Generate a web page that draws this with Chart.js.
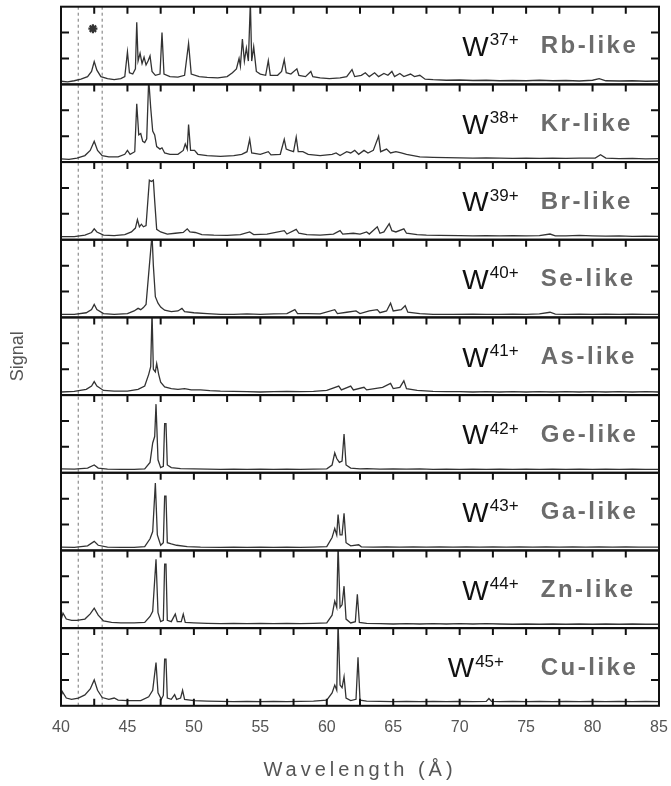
<!DOCTYPE html>
<html>
<head>
<meta charset="utf-8">
<script src="https://cdn.jsdelivr.net/npm/chart.js@4.4.1/dist/chart.umd.min.js"></script>
<style>
  html, body { margin: 0; padding: 0; background: #fff; }
  #wrap { width: 671px; height: 786px; }
</style>
</head>
<body>
<div id="wrap"><canvas id="spectra"></canvas></div>
<script>
// charge states and isoelectronic sequence, top panel first
const ions = ['37+', '38+', '39+', '40+', '41+', '42+', '43+', '44+', '45+'];
const sequences = ['Rb-like', 'Kr-like', 'Br-like', 'Se-like', 'As-like', 'Ge-like', 'Ga-like', 'Zn-like', 'Cu-like'];
const xTickValues = [42.5, 45, 47.5, 50, 52.5, 55, 57.5, 60, 62.5, 65, 67.5, 70, 72.5, 75, 77.5, 80, 82.5];
const yTickValues = [1, 2];
const guideLines = [41.3, 43.1];
const markers = [[42.4, 2.15]];

// [wavelength (A), signal]
const rb = [[40,0.12],[40.5,0.1],[41,0.14],[41.5,0.2],[42,0.3],[42.3,0.5],[42.5,0.88],[42.7,0.55],[43,0.3],[43.5,0.22],[44,0.18],[44.5,0.22],[44.8,0.3],[45,1.25],[45.15,0.45],[45.4,0.4],[45.6,0.6],[45.7,2.4],[45.8,0.9],[45.95,1.2],[46.1,0.8],[46.25,1.05],[46.4,0.75],[46.55,0.9],[46.7,1.1],[46.85,0.5],[47.1,0.35],[47.45,0.4],[47.6,2.0],[47.75,0.4],[48.2,0.3],[48.8,0.28],[49.3,0.35],[49.6,1.58],[49.8,0.4],[50.4,0.3],[51,0.27],[51.8,0.25],[52.5,0.3],[52.9,0.45],[53.2,0.6],[53.4,1.0],[53.5,0.7],[53.65,1.75],[53.8,0.9],[53.95,1.4],[54.1,0.9],[54.25,3.2],[54.35,0.9],[54.5,1.45],[54.7,0.5],[55,0.4],[55.4,0.35],[55.6,0.92],[55.75,0.35],[56.3,0.35],[56.6,0.5],[56.8,0.95],[56.95,0.45],[57.3,0.4],[57.75,0.6],[57.9,0.35],[58.4,0.3],[58.8,0.5],[58.95,0.3],[59.5,0.25],[60.2,0.22],[61,0.25],[61.5,0.3],[61.9,0.57],[62.1,0.3],[62.6,0.35],[62.9,0.45],[63.2,0.3],[63.6,0.45],[63.9,0.3],[64.3,0.42],[64.6,0.35],[64.9,0.5],[65.1,0.3],[65.5,0.42],[65.8,0.3],[66.3,0.4],[66.6,0.3],[67,0.35],[67.4,0.2],[68,0.18],[69,0.16],[70,0.17],[71,0.15],[72,0.16],[73,0.14],[74,0.15],[75,0.14],[76,0.16],[77,0.14],[78,0.15],[79,0.13],[80,0.16],[80.5,0.22],[81,0.14],[82,0.13],[83,0.14],[84,0.12],[85,0.13]];
const kr = [[40,0.12],[40.6,0.1],[41.2,0.15],[41.8,0.25],[42.2,0.45],[42.5,0.8],[42.75,0.45],[43.1,0.25],[43.6,0.2],[44.3,0.2],[44.8,0.3],[45,0.45],[45.2,0.3],[45.55,0.4],[45.7,2.25],[45.85,1.05],[46,1.1],[46.15,0.8],[46.3,0.75],[46.45,0.9],[46.6,3.2],[46.75,2.1],[46.9,1.2],[47.05,1.05],[47.2,0.6],[47.45,0.5],[47.6,0.55],[47.8,0.35],[48.2,0.3],[48.8,0.3],[49.2,0.45],[49.35,0.7],[49.5,0.5],[49.6,1.45],[49.75,0.45],[50.05,0.45],[50.3,0.3],[51,0.25],[52,0.22],[53,0.25],[53.6,0.3],[54,0.4],[54.2,0.88],[54.35,0.35],[55,0.3],[55.6,0.4],[55.8,0.28],[56.5,0.3],[56.8,0.88],[56.95,0.5],[57.2,0.45],[57.5,0.4],[57.7,0.96],[57.85,0.4],[58.2,0.4],[58.6,0.3],[59.5,0.25],[60.4,0.3],[60.7,0.35],[61,0.25],[61.5,0.4],[61.8,0.35],[62.1,0.45],[62.4,0.3],[62.8,0.45],[63.1,0.35],[63.5,0.45],[63.9,1.0],[64.05,0.4],[64.5,0.5],[64.8,0.35],[65.2,0.4],[65.6,0.35],[66,0.3],[66.5,0.25],[67,0.2],[68,0.18],[69,0.17],[70,0.16],[71,0.15],[72,0.16],[73,0.15],[74,0.14],[75,0.15],[76,0.14],[77,0.15],[78,0.14],[79,0.15],[80.2,0.15],[80.6,0.28],[81,0.15],[82,0.13],[83,0.14],[84,0.12],[85,0.13]];
const br = [[40,0.12],[41,0.12],[41.8,0.18],[42.3,0.28],[42.5,0.42],[42.7,0.3],[43.2,0.18],[44,0.16],[44.8,0.2],[45.3,0.3],[45.6,0.45],[45.75,0.78],[45.9,0.5],[46.05,0.6],[46.2,0.5],[46.4,0.55],[46.55,1.6],[46.65,2.3],[46.8,2.25],[46.95,2.3],[47.05,1.5],[47.2,0.4],[47.5,0.3],[48,0.22],[48.6,0.25],[49.2,0.28],[49.5,0.42],[49.7,0.3],[50.1,0.28],[50.6,0.2],[51.5,0.18],[52.5,0.17],[53.5,0.2],[54.2,0.3],[54.5,0.2],[55.5,0.22],[56.8,0.35],[57,0.22],[57.7,0.4],[57.9,0.25],[58.5,0.2],[59.5,0.18],[60.5,0.22],[61,0.35],[61.2,0.22],[62,0.25],[62.5,0.22],[63,0.3],[63.2,0.22],[63.8,0.5],[64,0.25],[64.3,0.3],[64.7,0.62],[64.9,0.35],[65.2,0.3],[65.8,0.42],[66,0.25],[66.8,0.2],[67.5,0.18],[68.5,0.17],[70,0.16],[71,0.15],[72,0.16],[73,0.15],[74,0.16],[75,0.15],[76,0.16],[76.8,0.22],[77.2,0.15],[78,0.15],[79,0.17],[80,0.15],[81,0.14],[82,0.15],[83,0.13],[84,0.14],[85,0.13]];
const se = [[40,0.12],[41,0.12],[41.9,0.18],[42.3,0.3],[42.5,0.5],[42.7,0.3],[43.2,0.15],[44,0.12],[45,0.15],[45.5,0.25],[45.8,0.35],[46,0.3],[46.2,0.38],[46.4,0.5],[46.6,1.7],[46.75,2.6],[46.85,3.2],[46.95,2.0],[47.1,0.8],[47.3,0.55],[47.5,0.4],[47.8,0.28],[48.3,0.22],[48.8,0.25],[49.1,0.35],[49.3,0.22],[50,0.18],[51,0.15],[52,0.12],[53,0.12],[54,0.14],[55,0.12],[56,0.14],[57,0.15],[57.6,0.3],[57.8,0.15],[58.5,0.15],[59.5,0.14],[60.6,0.3],[60.8,0.15],[61.5,0.2],[62.2,0.25],[62.5,0.15],[63.2,0.25],[63.8,0.3],[64,0.18],[64.5,0.25],[64.8,0.55],[65,0.25],[65.6,0.3],[65.9,0.45],[66.1,0.2],[67,0.15],[68,0.12],[69.5,0.12],[71,0.13],[72,0.12],[73,0.12],[74,0.13],[75,0.12],[76,0.14],[76.8,0.2],[77.2,0.13],[78,0.12],[79,0.13],[80,0.12],[81,0.13],[82,0.12],[83,0.13],[84,0.12],[85,0.12]];
const as = [[40,0.12],[41,0.14],[41.9,0.22],[42.3,0.35],[42.5,0.52],[42.7,0.35],[43.2,0.18],[44,0.15],[45,0.15],[45.8,0.22],[46.3,0.35],[46.6,0.8],[46.75,1.1],[46.85,3.2],[46.95,1.0],[47.1,0.9],[47.2,1.22],[47.35,0.8],[47.5,0.5],[47.8,0.32],[48.3,0.25],[48.8,0.22],[49.3,0.25],[49.8,0.2],[50.5,0.2],[51.2,0.17],[52,0.15],[53,0.14],[54,0.13],[55,0.12],[56,0.13],[57,0.14],[58,0.13],[59,0.14],[60,0.18],[60.9,0.35],[61.1,0.2],[61.8,0.35],[62,0.2],[62.8,0.3],[63,0.2],[63.6,0.25],[64.2,0.3],[64.8,0.45],[65,0.25],[65.5,0.3],[65.8,0.55],[66,0.25],[66.8,0.18],[68,0.14],[69,0.13],[70,0.13],[71,0.12],[72,0.13],[73,0.12],[74,0.13],[75,0.12],[76,0.13],[77,0.12],[78,0.13],[79,0.12],[80,0.13],[81,0.12],[82,0.13],[83,0.12],[84,0.13],[85,0.12]];
const ge = [[40,0.15],[41,0.14],[42,0.18],[42.5,0.3],[42.8,0.18],[43.5,0.14],[44.5,0.13],[45.5,0.13],[46.3,0.15],[46.7,0.4],[46.9,1.15],[47.05,1.4],[47.15,2.65],[47.3,0.5],[47.5,0.2],[47.7,0.25],[47.8,1.9],[47.9,1.9],[48,0.3],[48.3,0.2],[49,0.16],[50,0.15],[51,0.14],[52,0.13],[53,0.14],[54,0.13],[55,0.14],[56,0.13],[57,0.14],[58,0.13],[59,0.14],[60,0.15],[60.4,0.3],[60.6,0.77],[60.75,0.55],[60.95,0.4],[61.15,0.45],[61.3,1.5],[61.45,0.3],[61.8,0.18],[62.5,0.15],[63,0.16],[64,0.14],[65,0.15],[66,0.14],[67,0.15],[68,0.13],[69,0.14],[70,0.13],[71,0.14],[72,0.13],[73,0.14],[74,0.13],[75,0.14],[76,0.13],[77,0.14],[78,0.13],[79,0.14],[80,0.13],[81,0.14],[82,0.13],[83,0.14],[84,0.13],[85,0.13]];
const ga = [[40,0.13],[41,0.12],[42,0.18],[42.5,0.35],[42.8,0.2],[43.5,0.13],[44.5,0.12],[45.5,0.12],[46.3,0.15],[46.7,0.45],[46.9,0.73],[47.1,2.6],[47.25,0.6],[47.5,0.2],[47.7,0.3],[47.8,2.1],[47.9,2.1],[48,0.3],[48.3,0.25],[48.7,0.2],[49.5,0.15],[50.5,0.13],[52,0.12],[53,0.13],[54,0.12],[55,0.13],[56,0.12],[57,0.13],[58,0.12],[59,0.13],[60,0.15],[60.4,0.5],[60.6,0.85],[60.75,0.6],[60.85,1.39],[61,0.6],[61.15,0.6],[61.3,1.43],[61.45,0.3],[61.8,0.18],[62.4,0.22],[62.6,0.14],[63.5,0.13],[64.5,0.14],[65.5,0.13],[66.5,0.14],[67.5,0.13],[68.5,0.14],[69.5,0.13],[70.5,0.14],[71.5,0.13],[72.5,0.14],[73.5,0.13],[74.5,0.14],[75.5,0.13],[76.5,0.14],[77.5,0.13],[78.5,0.14],[79.5,0.13],[80.5,0.14],[81.5,0.13],[82.5,0.14],[83.5,0.13],[85,0.13]];
const zn = [[40,0.3],[40.15,0.58],[40.4,0.35],[40.8,0.3],[41.2,0.3],[41.8,0.35],[42.2,0.55],[42.5,0.77],[42.8,0.5],[43.2,0.28],[43.8,0.22],[44.5,0.2],[45.5,0.2],[46.3,0.22],[46.7,0.45],[46.9,0.65],[47.15,2.66],[47.3,0.6],[47.5,0.25],[47.7,0.3],[47.8,2.47],[47.9,2.47],[48,0.3],[48.3,0.25],[48.6,0.54],[48.75,0.25],[49.05,0.25],[49.2,0.54],[49.35,0.22],[50,0.2],[51,0.18],[52,0.17],[53,0.18],[54,0.17],[55,0.18],[56,0.17],[57,0.18],[58,0.17],[59,0.18],[60,0.2],[60.4,0.5],[60.6,1.04],[60.75,0.8],[60.85,3.2],[61,0.8],[61.15,0.9],[61.3,1.62],[61.45,0.35],[61.8,0.2],[62.15,0.25],[62.3,1.31],[62.45,0.22],[63,0.18],[64,0.17],[65,0.16],[66,0.17],[67,0.16],[68,0.17],[69,0.16],[70,0.17],[71,0.16],[72,0.17],[73,0.16],[74,0.15],[75,0.16],[76,0.15],[77,0.16],[78,0.15],[79,0.16],[80,0.15],[81,0.16],[82,0.15],[83,0.16],[84,0.15],[85,0.15]];
const cu = [[40,0.35],[40.1,0.55],[40.4,0.3],[40.8,0.25],[41.3,0.3],[41.8,0.42],[42.2,0.65],[42.5,1.0],[42.75,0.6],[43.1,0.32],[43.6,0.25],[44,0.3],[44.3,0.22],[45,0.2],[46,0.2],[46.6,0.35],[46.9,0.6],[47.15,1.67],[47.3,0.5],[47.55,0.25],[47.7,0.4],[47.8,1.8],[47.9,1.8],[48,0.3],[48.3,0.25],[48.55,0.43],[48.7,0.25],[49,0.3],[49.15,0.6],[49.3,0.25],[50,0.2],[51,0.18],[52,0.17],[53,0.16],[54,0.17],[55,0.16],[56,0.17],[57,0.16],[58,0.17],[59,0.18],[60,0.22],[60.4,0.5],[60.6,0.8],[60.75,0.6],[60.85,3.2],[61,0.8],[61.15,0.7],[61.3,1.12],[61.45,0.3],[61.8,0.2],[62.2,0.25],[62.35,1.87],[62.5,0.22],[63,0.18],[64,0.17],[65,0.16],[66,0.17],[67,0.16],[68,0.17],[69,0.16],[70,0.17],[71,0.16],[72,0.17],[72.2,0.28],[72.4,0.17],[73,0.16],[74,0.17],[75,0.16],[76,0.17],[77,0.16],[78,0.17],[79,0.16],[80,0.17],[81,0.16],[82,0.17],[83,0.16],[84,0.17],[85,0.16]];
const spectra = [rb, kr, br, se, as, ge, ga, zn, cu];

const yIds = spectra.map((d, i) => 'y' + i);

Chart.defaults.font.family = '"Liberation Sans", Arial, sans-serif';

// keep every spectrum inside its own panel
const panelClip = {
  id: 'panelClip',
  beforeDatasetDraw(chart, args) {
    const s = args.meta.yScale;
    const area = chart.chartArea;
    chart.ctx.save();
    chart.ctx.beginPath();
    chart.ctx.rect(area.left, s.top, area.right - area.left, s.bottom - s.top);
    chart.ctx.clip();
  },
  afterDatasetDraw(chart) {
    chart.ctx.restore();
  }
};

// dashed guides, frames, inward ticks and the panel labels
const panelDecor = {
  id: 'panelDecor',
  beforeDatasetsDraw(chart) {
    const {ctx, chartArea, scales} = chart;
    ctx.save();
    ctx.strokeStyle = '#8c8c8c';
    ctx.lineWidth = 1.2;
    ctx.setLineDash([3, 3]);
    guideLines.forEach(v => {
      const px = scales.x.getPixelForValue(v);
      ctx.beginPath();
      ctx.moveTo(px, chartArea.top);
      ctx.lineTo(px, chartArea.bottom);
      ctx.stroke();
    });
    ctx.restore();
  },
  afterDraw(chart) {
    const {ctx, chartArea, scales} = chart;
    const x = scales.x;
    const w = chartArea.right - chartArea.left;
    ctx.save();
    ctx.strokeStyle = '#111';
    ctx.lineWidth = 2;
    yIds.forEach((id, i) => {
      const s = scales[id];
      ctx.strokeRect(chartArea.left, s.top, w, s.bottom - s.top);
      ctx.beginPath();
      xTickValues.forEach(v => {
        const px = x.getPixelForValue(v);
        ctx.moveTo(px, s.top);
        ctx.lineTo(px, s.top + 7);
        if (i === yIds.length - 1) {
          ctx.moveTo(px, s.bottom);
          ctx.lineTo(px, s.bottom - 7);
        }
      });
      yTickValues.forEach(v => {
        const py = s.getPixelForValue(v);
        ctx.moveTo(chartArea.left, py);
        ctx.lineTo(chartArea.left + 8, py);
        ctx.moveTo(chartArea.right, py);
        ctx.lineTo(chartArea.right - 8, py);
      });
      ctx.stroke();

      const base = s.getPixelForValue(1.1);
      const wx = x.getPixelForValue(i === 8 ? 69.1 : 70.2);
      ctx.textAlign = 'left';
      ctx.textBaseline = 'alphabetic';
      ctx.fillStyle = '#111';
      ctx.font = '28px "Liberation Sans", Arial, sans-serif';
      ctx.fillText('W', wx, base);
      const ww = ctx.measureText('W').width;
      ctx.font = '17px "Liberation Sans", Arial, sans-serif';
      ctx.fillText(ions[i], wx + ww + 1, base - 10.5);
      ctx.fillStyle = '#6b6b6b';
      ctx.font = 'bold 24px "Liberation Sans", Arial, sans-serif';
      ctx.letterSpacing = '2.5px';
      ctx.fillText(sequences[i], x.getPixelForValue(76.1), s.getPixelForValue(1.2));
      ctx.letterSpacing = '0px';
    });

    // axis titles
    ctx.fillStyle = '#555';
    ctx.textAlign = 'center';
    ctx.textBaseline = 'middle';
    ctx.font = '20px "Liberation Sans", Arial, sans-serif';
    ctx.letterSpacing = '4px';
    ctx.fillText('Wavelength (Å)', (chartArea.left + chartArea.right) / 2, 770);
    ctx.letterSpacing = '0px';
    ctx.translate(18, (chartArea.top + chartArea.bottom) / 2);
    ctx.rotate(-Math.PI / 2);
    ctx.font = '18px "Liberation Sans", Arial, sans-serif';
    ctx.fillText('Signal', 0, 0);
    ctx.restore();
  }
};

const scales = {
  x: {
    type: 'linear',
    min: 40,
    max: 85,
    grid: { display: false, drawTicks: true, tickLength: 12 },
    border: { display: false },
    ticks: { stepSize: 5, padding: 0, color: '#555', font: { size: 16 } }
  }
};
yIds.forEach(id => {
  scales[id] = {
    type: 'linear',
    position: 'right',
    stack: 'panels',
    stackWeight: 1,
    min: 0,
    max: 3,
    display: false
  };
});

const datasets = spectra.map((d, i) => ({
  label: sequences[i],
  data: d,
  yAxisID: yIds[i],
  borderColor: '#333',
  borderWidth: 1.3,
  pointRadius: 0,
  tension: 0,
  fill: false
}));
datasets.push({
  type: 'scatter',
  label: 'marker',
  data: markers,
  yAxisID: 'y0',
  pointStyle: 'star',
  pointRadius: 4.5,
  borderColor: '#333',
  borderWidth: 2.2
});

new Chart(document.getElementById('spectra'), {
  type: 'line',
  data: { datasets: datasets },
  options: {
    responsive: true,
    maintainAspectRatio: false,
    animation: false,
    events: [],
    layout: { padding: { left: 61, right: 12, top: 5, bottom: 49 } },
    scales: scales,
    plugins: {
      legend: { display: false },
      tooltip: { enabled: false }
    }
  },
  plugins: [panelClip, panelDecor]
});
</script>
</body>
</html>
